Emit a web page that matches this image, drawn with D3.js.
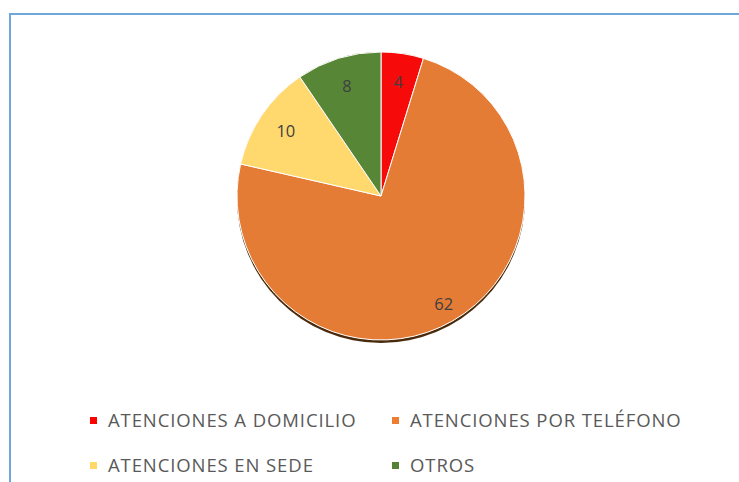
<!DOCTYPE html>
<html>
<head>
<meta charset="utf-8">
<script src="https://cdn.jsdelivr.net/npm/d3@7"></script>
<style>
  body { margin: 0; background: #fff; }
  svg { display: block; }
</style>
</head>
<body>
<svg id="chart"></svg>
<script>
// chart data
var categories = ["ATENCIONES A DOMICILIO", "ATENCIONES POR TELÉFONO", "ATENCIONES EN SEDE", "OTROS"];
var values = [4, 62, 10, 8];
var sliceColors = ["#f00a0a", "#df7934", "#f9d46a", "#558435"];
var legendColors = ["#ff0000", "#ed7d31", "#ffd966", "#548235"];

var width = 739, height = 482;
var svg = d3.select("#chart").attr("width", width).attr("height", height);

// outer frame (blue border, runs off the right / bottom)
svg.append("rect")
  .attr("x", 10).attr("y", 14)
  .attr("width", 760).attr("height", 500)
  .style("fill", "none")
  .style("stroke", "#6fa6dc")
  .style("stroke-width", 2);

var cx = 381, cy = 196, radius = 144;

var defs = svg.append("defs");
// subtle left-to-right shading like the excel preset
sliceColors.forEach(function(c, i) {
  var g = defs.append("linearGradient")
    .attr("id", "grad" + i)
    .attr("gradientUnits", "userSpaceOnUse")
    .attr("x1", cx - radius).attr("y1", cy - radius * 0.3)
    .attr("x2", cx + radius).attr("y2", cy + radius * 0.3);
  g.append("stop").attr("offset", "0%").attr("stop-color", d3.color(c).brighter(0.07));
  g.append("stop").attr("offset", "100%").attr("stop-color", d3.color(c).darker(0.06));
});

var shadow = defs.append("filter").attr("id", "shadow")
  .attr("x", "-10%").attr("y", "-10%").attr("width", "120%").attr("height", "125%");
shadow.append("feDropShadow")
  .attr("dx", 0).attr("dy", 3)
  .attr("stdDeviation", 0.7)
  .attr("flood-color", "#4a2a0c")
  .attr("flood-opacity", 1);

var pie = d3.pie().sort(null).value(function(d) { return d; });
var arc = d3.arc().innerRadius(0).outerRadius(radius);
var labelArc = d3.arc().innerRadius(radius * 0.8).outerRadius(radius * 0.8);

var pieG = svg.append("g").attr("transform", "translate(" + cx + "," + cy + ")");

// shadow disc under the pie
pieG.append("circle")
  .attr("r", radius)
  .style("fill", "#df7934")
  .attr("filter", "url(#shadow)");

var arcs = pie(values);

pieG.selectAll(".slice")
  .data(arcs)
  .enter()
  .append("path")
  .attr("class", "slice")
  .attr("d", arc)
  .style("fill", function(d, i) { return "url(#grad" + i + ")"; })
  .style("stroke", "#fff")
  .style("stroke-width", 1);

pieG.selectAll(".lbl")
  .data(arcs)
  .enter()
  .append("text")
  .attr("class", "lbl")
  .attr("transform", function(d, i) {
    var p = labelArc.centroid(d);
    if (i == 1) { p = d3.arc().innerRadius(radius * 0.87).outerRadius(radius * 0.87).centroid(d); }
    return "translate(" + p[0] + "," + p[1] + ")";
  })
  .attr("text-anchor", "middle")
  .attr("dy", "0.35em")
  .style("font-family", "'Open Sans', sans-serif")
  .style("font-size", "16.5px")
  .style("fill", "#404040")
  .text(function(d) { return d.data; });

// legend, two columns
var legendX = [90, 392];
var legendY = [421, 466];
var legend = svg.append("g");
categories.forEach(function(name, i) {
  var lx = legendX[i % 2], ly = legendY[Math.floor(i / 2)];
  legend.append("rect")
    .attr("x", lx).attr("y", ly - 4)
    .attr("width", 7).attr("height", 7)
    .style("fill", legendColors[i]);
  legend.append("text")
    .attr("x", lx + 18).attr("y", ly)
    .attr("dy", "0.35em")
    .style("font-family", "'Open Sans', sans-serif")
    .style("font-size", "18.5px")
    .style("letter-spacing", "0.9px")
    .style("fill", "#595959")
    .text(name);
});
</script>
</body>
</html>
